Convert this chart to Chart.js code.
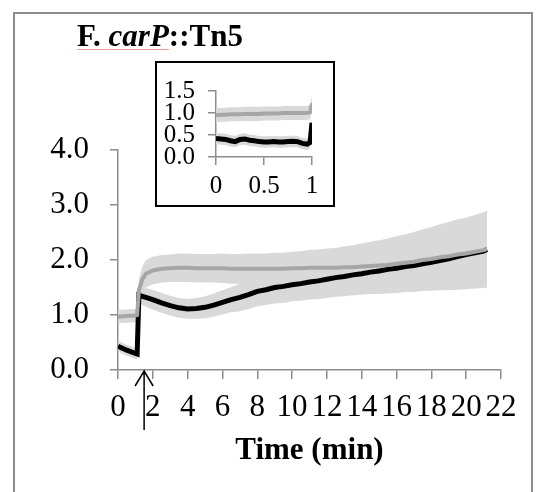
<!DOCTYPE html>
<html>
<head>
<meta charset="utf-8">
<script src="https://cdn.jsdelivr.net/npm/chart.js@4.4.1/dist/chart.umd.min.js"></script>
<style>
  body { margin: 0; background: #fff; }
  #wrap { position: relative; width: 537px; height: 492px; overflow: hidden; }
  #mainChart { position: absolute; left: 0; top: 0; }
  #frame { position: absolute; left: 13px; top: 12px; width: 516px; height: 500px; border: 2px solid #8c8c8c; }
  #title { position: absolute; left: 77px; top: 20px; font: bold 31px/31px 'Liberation Serif', 'Times New Roman', serif; color: #000; white-space: nowrap; }
  #title .spell { text-decoration: underline; text-decoration-color: #f29a9a; text-decoration-thickness: 1px; text-underline-offset: 3px; }
  #inset { position: absolute; left: 155px; top: 61px; width: 176px; height: 142px; border: 2px solid #000; background: #fff; }
</style>
</head>
<body>
<div id="wrap">
  <canvas id="mainChart" width="537" height="492"></canvas>
  <div id="frame"></div>
  <div id="title"><span class="spell">F. <i>carP</i></span>::Tn5</div>
  <div id="inset"><canvas id="insetChart" width="176" height="142"></canvas></div>
</div>
<script>
// main panel, time in min
const times = [0, 0.5, 1.0, 1.1, 1.2, 1.4, 1.6, 2.0, 2.5, 3, 3.5, 4, 4.5, 5, 5.5, 6, 6.5, 7, 7.5, 8, 8.5, 9, 9.5, 10,
               10.5, 11, 11.5, 12, 12.5, 13, 13.5, 14, 14.5, 15, 15.5, 16, 16.5, 17, 17.5, 18, 18.5, 19, 19.5, 20, 20.5, 21, 21.2];
const grayMean = [0.97, 0.98, 0.99, 1.00, 1.45, 1.65, 1.75, 1.81, 1.84, 1.85, 1.86, 1.86, 1.85, 1.85, 1.85, 1.85, 1.84, 1.84, 1.84, 1.84, 1.84, 1.84, 1.84, 1.85,
                  1.85, 1.86, 1.86, 1.86, 1.86, 1.87, 1.87, 1.88, 1.89, 1.90, 1.91, 1.93, 1.95, 1.97, 2.00, 2.02, 2.05, 2.07, 2.10, 2.12, 2.15, 2.18, 2.20];
const graySd   = [0.12, 0.12, 0.12, 0.12, 0.20, 0.23, 0.25, 0.25, 0.25, 0.25, 0.26, 0.26, 0.26, 0.26, 0.26, 0.27, 0.27, 0.27, 0.28, 0.28, 0.28, 0.29, 0.29, 0.30,
                  0.31, 0.32, 0.33, 0.35, 0.36, 0.38, 0.40, 0.42, 0.44, 0.46, 0.48, 0.50, 0.52, 0.54, 0.56, 0.58, 0.60, 0.62, 0.64, 0.65, 0.67, 0.69, 0.70];
const blackMean = [0.43, 0.36, 0.30, 0.29, 1.36, 1.34, 1.32, 1.28, 1.22, 1.17, 1.13, 1.11, 1.12, 1.14, 1.18, 1.23, 1.28, 1.32, 1.37, 1.43, 1.46, 1.50, 1.52, 1.55,
                   1.57, 1.60, 1.62, 1.65, 1.68, 1.70, 1.73, 1.75, 1.78, 1.80, 1.83, 1.85, 1.88, 1.90, 1.93, 1.96, 1.99, 2.02, 2.06, 2.10, 2.13, 2.16, 2.19];
const blackSd   = [0.10, 0.10, 0.10, 0.10, 0.15, 0.16, 0.17, 0.18, 0.18, 0.18, 0.18, 0.18, 0.19, 0.20, 0.21, 0.22, 0.23, 0.25, 0.26, 0.27, 0.28, 0.29, 0.30, 0.30,
                   0.31, 0.32, 0.33, 0.34, 0.35, 0.36, 0.37, 0.38, 0.40, 0.42, 0.44, 0.45, 0.46, 0.48, 0.49, 0.50, 0.52, 0.55, 0.57, 0.60, 0.62, 0.64, 0.65];
const arrowAt = 1.5;

// inset, first minute
const insetTimes = [0, 0.05, 0.1, 0.15, 0.2, 0.25, 0.3, 0.35, 0.4, 0.45, 0.5, 0.55, 0.6, 0.65, 0.7, 0.75, 0.8, 0.85, 0.9, 0.95, 0.98, 1.0];
const insetGray  = [0.95, 0.96, 0.96, 0.97, 0.97, 0.97, 0.98, 0.98, 0.98, 0.98, 0.99, 0.99, 0.99, 0.99, 1.00, 1.00, 1.00, 1.00, 1.00, 1.00, 1.02, 1.22];
const insetGraySd = [0.16, 0.16, 0.16, 0.16, 0.16, 0.16, 0.16, 0.16, 0.16, 0.16, 0.16, 0.16, 0.16, 0.16, 0.16, 0.16, 0.16, 0.16, 0.16, 0.16, 0.16, 0.16];
const insetBlack = [0.42, 0.41, 0.40, 0.37, 0.35, 0.40, 0.41, 0.38, 0.37, 0.35, 0.34, 0.34, 0.35, 0.34, 0.34, 0.35, 0.36, 0.35, 0.31, 0.29, 0.33, 0.78];
const insetBlackSd = [0.13, 0.13, 0.13, 0.13, 0.13, 0.13, 0.13, 0.13, 0.13, 0.13, 0.13, 0.13, 0.13, 0.13, 0.13, 0.13, 0.13, 0.13, 0.13, 0.13, 0.13, 0.13];

const serif = "'Liberation Serif', 'Times New Roman', serif";
const axisGray = '#8c8c8c';
const bandColor = '#d9d9d9';

const pts = (xs, ys, sd, sign) => xs.map((t, i) => ({ x: t, y: ys[i] + (sd ? sign * sd[i] : 0) }));

function buildDatasets(xs, gMean, gSd, bMean, bSd) {
    const line = (data, color, w) => ({ data, borderColor: color, borderWidth: w, pointRadius: 0, tension: 0, fill: false });
    const band = (data, fill) => ({ data, borderWidth: 0, borderColor: 'transparent', backgroundColor: bandColor, pointRadius: 0, tension: 0, fill });
    return [
        line(pts(xs, gMean), '#a6a6a6', 4),
        line(pts(xs, bMean), '#000000', 5),
        band(pts(xs, gMean, gSd, 1), false),
        band(pts(xs, gMean, gSd, -1), '-1'),
        band(pts(xs, bMean, bSd, 1), false),
        band(pts(xs, bMean, bSd, -1), '-1')
    ];
}

const arrowPlugin = {
    id: 'arrow',
    afterDraw(chart) {
        const { ctx, scales: { x, y } } = chart;
        const px = x.getPixelForValue(arrowAt);
        const base = y.getPixelForValue(0);
        ctx.save();
        ctx.strokeStyle = '#000';
        ctx.lineWidth = 1.5;
        ctx.beginPath();
        ctx.moveTo(px, base + 1);
        ctx.lineTo(px, base + 60);
        ctx.moveTo(px - 9, base + 16);
        ctx.lineTo(px, base + 1);
        ctx.lineTo(px + 9, base + 16);
        ctx.stroke();
        ctx.restore();
    }
};

const mainChart = new Chart(document.getElementById('mainChart'), {
    type: 'line',
    data: { datasets: buildDatasets(times, grayMean, graySd, blackMean, blackSd) },
    options: {
        responsive: false,
        animation: false,
        layout: { padding: { left: 0, right: 36, top: 150, bottom: 18 } },
        plugins: { legend: { display: false }, tooltip: { enabled: false }, filler: { drawTime: 'beforeDatasetsDraw' } },
        scales: {
            x: {
                type: 'linear', min: 0, max: 22,
                afterFit: s => { s.height = 104; },
                border: { display: true, color: axisGray, width: 1.5 },
                grid: { drawOnChartArea: false, drawTicks: true, tickLength: 9, color: axisGray, lineWidth: 1.5 },
                ticks: { stepSize: 2, autoSkip: false, maxRotation: 0, padding: 10, color: '#000', font: { family: serif, size: 31 } },
                title: { display: true, text: 'Time (min)', color: '#000', padding: { top: 0, bottom: 4 }, font: { family: serif, size: 31, weight: 'bold' } }
            },
            y: {
                min: 0, max: 4,
                afterFit: s => { s.width = 118; },
                border: { display: true, color: axisGray, width: 1.5 },
                grid: { drawOnChartArea: false, drawTicks: true, tickLength: 8, color: axisGray, lineWidth: 1.5 },
                ticks: { stepSize: 1, autoSkip: false, padding: 21, color: '#000', font: { family: serif, size: 31 }, callback: v => v.toFixed(1) }
            }
        }
    },
    plugins: [arrowPlugin]
});

const insetChart = new Chart(document.getElementById('insetChart'), {
    type: 'line',
    data: { datasets: buildDatasets(insetTimes, insetGray, insetGraySd, insetBlack, insetBlackSd) },
    options: {
        responsive: false,
        animation: false,
        layout: { padding: { left: 0, right: 21, top: 15, bottom: 0 } },
        plugins: { legend: { display: false }, tooltip: { enabled: false }, filler: { drawTime: 'beforeDatasetsDraw' } },
        scales: {
            x: {
                type: 'linear', min: 0, max: 1,
                afterFit: s => { s.height = 48; },
                border: { display: true, color: axisGray, width: 1.5 },
                grid: { drawOnChartArea: false, drawTicks: true, tickLength: 8, color: axisGray, lineWidth: 1.5 },
                ticks: { stepSize: 0.5, autoSkip: false, maxRotation: 0, padding: 6, color: '#000', font: { family: serif, size: 25 }, callback: v => String(v) }
            },
            y: {
                min: 0, max: 1.5,
                afterFit: s => { s.width = 59; },
                border: { display: true, color: axisGray, width: 1.5 },
                grid: { drawOnChartArea: false, drawTicks: true, tickLength: 8, color: axisGray, lineWidth: 1.5 },
                ticks: { stepSize: 0.5, autoSkip: false, padding: 13, color: '#000', font: { family: serif, size: 25 }, callback: v => v.toFixed(1) }
            }
        }
    }
});
</script>
</body>
</html>
